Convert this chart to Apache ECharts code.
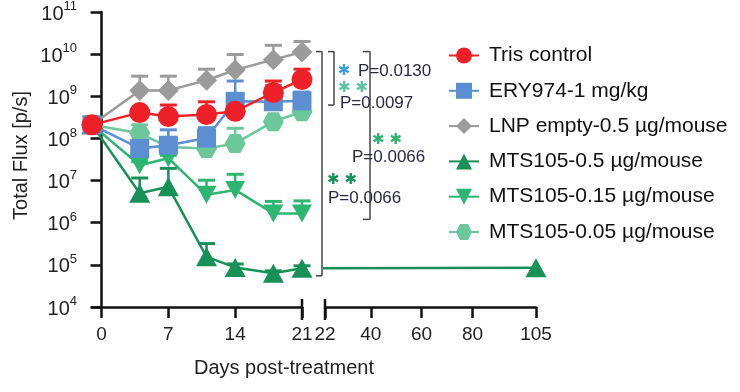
<!DOCTYPE html>
<html><head><meta charset="utf-8">
<script src="https://cdn.jsdelivr.net/npm/echarts@6/dist/echarts.min.js"></script>
<style>html,body{margin:0;padding:0;background:#fff}#c{width:740px;height:392px}</style>
</head><body><div id="c"></div>
<script>
// ---------- data ----------
const days = [-1, 4, 7, 11, 14, 18, 21];
const lateDay = 105;
const xTicksLeft = [0, 7, 14, 21];
const xTicksRight = [22, 40, 60, 80, 105];
const yTickExponents = [4, 5, 6, 7, 8, 9, 10, 11];

const names = ['Tris control', 'ERY974-1 mg/kg', 'LNP empty-0.5 µg/mouse',
  'MTS105-0.5 µg/mouse', 'MTS105-0.15 µg/mouse', 'MTS105-0.05 µg/mouse'];

const tris      = [2.1e8, 4.1e8, 3.3e8, 3.7e8, 4.4e8, 1.23e9, 2.5e9];
const trisErr   = [null, 5.0e8, 6.2e8, 7.4e8, 5.6e8, 2.3e9, 4.4e9];
const ery       = [2.1e8, 5.8e7, 6.9e7, 1.02e8, 7.6e8, 7.4e8, 7.8e8];
const eryErr    = [null, 7.9e7, 1.6e8, 1.8e8, 2.3e9, 1.8e9, 1.26e9];
const lnp       = [2.1e8, 1.38e9, 1.38e9, 2.4e9, 4.2e9, 7.4e9, 1.12e10];
const lnpErr    = [null, 3.0e9, 3.0e9, 4.4e9, 9.8e9, 1.62e10, 2.0e10];
const mts05     = [2.1e8, 5.0e6, 7.1e6, 1.55e5, 8.7e4, 6.3e4, 8.3e4];
const mts05Err  = [null, 1.15e7, 1.95e7, 3.2e5, 1.05e5, 7.2e4, 9.5e4];
const mts05Late = 8.5e4;
const mts015    = [2.1e8, 2.3e7, 3.4e7, 4.6e6, 6.0e6, 1.66e6, 1.66e6];
const mts015Err = [null, 2.8e7, 4.0e7, 1.02e7, 1.41e7, 3.2e6, 3.3e6];
const mts005    = [2.1e8, 1.32e8, 6.3e7, 5.8e7, 7.6e7, 2.5e8, 4.3e8];
const mts005Err = [null, 2.1e8, 7.9e7, 7.9e7, 1.74e8, 3.0e8, 5.0e8];

// significance annotations
const pLabels = ['P=0.0130', 'P=0.0097', 'P=0.0066', 'P=0.0066'];
const bracketTop = 1.15e10;
const bracketBottoms = [5.5e4, 6.2e8, 1.2e6];

// ---------- chart ----------
const FONT = "'Liberation Sans', Arial, Helvetica, sans-serif";
const C = {
  red: '#ee2027', blue: '#5b8fd2', gray: '#9b9b9b',
  dg: '#179157', g: '#2db672', teal: '#6cc79b'
};
const hex = 'path://M0,8.66 L5,0 L15,0 L20,8.66 L15,17.32 L5,17.32 Z';

function errData(vals, errs) {
  const out = [];
  days.forEach((d, i) => { if (errs[i] != null) out.push([d, vals[i], errs[i]]); });
  return out;
}
function errSeries(name, vals, errs, color, z) {
  return {
    type: 'custom', name: name, xAxisIndex: 0, yAxisIndex: 0, z: z, silent: true,
    encode: { x: 0, y: [1, 2] },
    data: errData(vals, errs),
    renderItem: function (params, api) {
      const p = api.coord([api.value(0), api.value(1)]);
      const q = api.coord([api.value(0), api.value(2)]);
      return { type: 'group', children: [
        { type: 'line', shape: { x1: p[0], y1: p[1], x2: q[0], y2: q[1] }, style: { stroke: color, lineWidth: 2.5 } },
        { type: 'line', shape: { x1: q[0] - 8.5, y1: q[1], x2: q[0] + 8.5, y2: q[1] }, style: { stroke: color, lineWidth: 3 } }
      ]};
    }
  };
}
function lineSeries(name, vals, color, symbol, size, z, extra) {
  return Object.assign({
    type: 'line', name: name, xAxisIndex: 0, yAxisIndex: 0, z: z, clip: false,
    data: days.map((d, i) => [d, vals[i]]),
    symbol: symbol, symbolSize: size,
    itemStyle: { color: color, opacity: 1 },
    lineStyle: { color: color, width: 2.5 },
    emphasis: { disabled: true }, animation: false
  }, extra || {});
}

const series = [
  errSeries('e5', mts005, mts005Err, C.teal, 10),
  lineSeries(names[5], mts005, C.teal, hex, [21, 19], 11),
  errSeries('e4', mts015, mts015Err, C.g, 12),
  lineSeries(names[4], mts015, C.g, 'triangle', [20, 18], 13, { symbolRotate: 180 }),
  errSeries('e3', mts05, mts05Err, C.dg, 14),
  lineSeries(names[3], mts05, C.dg, 'triangle', [21, 19], 15),
  {
    type: 'line', name: names[3], xAxisIndex: 1, yAxisIndex: 1, z: 15, clip: false,
    data: [{ value: [days[days.length - 1], mts05[mts05.length - 1]], symbol: 'none' }, [lateDay, mts05Late]],
    symbol: 'triangle', symbolSize: [21, 19],
    itemStyle: { color: C.dg }, lineStyle: { color: C.dg, width: 2.5 },
    emphasis: { disabled: true }, animation: false
  },
  errSeries('e2', lnp, lnpErr, C.gray, 16),
  lineSeries(names[2], lnp, C.gray, 'diamond', [21, 21], 17),
  errSeries('e1', ery, eryErr, C.blue, 18),
  lineSeries(names[1], ery, C.blue, 'rect', [19, 19], 19),
  errSeries('e0', tris, trisErr, C.red, 20),
  lineSeries(names[0], tris, C.red, 'circle', 21, 21)
];

const axisLine = { show: true, lineStyle: { color: '#111', width: 2.5 } };
const axisTick = { show: true, length: 11, lineStyle: { color: '#111', width: 2.5 } };

const option = {
  animation: false,
  backgroundColor: '#fff',
  textStyle: { fontFamily: FONT },
  grid: [
    { left: 92, top: 12, width: 210, height: 295 },
    { left: 325, top: 12, width: 211, height: 295 }
  ],
  xAxis: [
    { type: 'value', gridIndex: 0, min: -1, max: 21,
      axisLine: axisLine, axisTick: Object.assign({ customValues: xTicksLeft }, axisTick),
      axisLabel: { customValues: xTicksLeft, fontSize: 19, color: '#222', margin: 18, fontFamily: FONT },
      splitLine: { show: false } },
    { type: 'value', gridIndex: 1, min: 22, max: 105,
      axisLine: axisLine, axisTick: Object.assign({ customValues: xTicksRight }, axisTick),
      axisLabel: { customValues: xTicksRight, fontSize: 19, color: '#222', margin: 18, fontFamily: FONT },
      splitLine: { show: false } }
  ],
  yAxis: [
    { type: 'log', gridIndex: 0, logBase: 10, min: 1e4, max: 1e11, interval: 1, splitNumber: 7,
      axisLine: axisLine, axisTick: axisTick, splitLine: { show: false },
      name: 'Total Flux [p/s]', nameLocation: 'middle', nameGap: 61, nameRotate: 90,
      nameTextStyle: { fontSize: 20, color: '#222', fontFamily: FONT, padding: [0, 0, 0, 8] },
      axisLabel: {
        margin: 15, color: '#222',
        formatter: function (v) {
          const e = Math.round(Math.log10(v));
          return yTickExponents.indexOf(e) >= 0 ? '{b|10}{s|' + e + '}' : '';
        },
        rich: {
          b: { fontSize: 20, lineHeight: 24, verticalAlign: 'bottom', fontFamily: FONT, color: '#222' },
          s: { fontSize: 13, lineHeight: 14, verticalAlign: 'top', fontFamily: FONT, color: '#222' }
        }
      } },
    { type: 'log', gridIndex: 1, logBase: 10, min: 1e4, max: 1e11, show: false }
  ],
  legend: {
    orient: 'vertical', left: 443, top: 40,
    itemWidth: 30, itemHeight: 20, itemGap: 14.3,
    data: names,
    lineStyle: { width: 2 },
    textStyle: { fontSize: 21, color: '#111', fontFamily: FONT, lineHeight: 20, padding: [0, 0, 0, 5] },
    selectedMode: false
  },
  series: series
};

const chart = echarts.init(document.getElementById('c'), null, { renderer: 'canvas' });
chart.setOption(option);

// ---------- annotations (axis break, brackets, significance) ----------
const px = (gi, x, y) => chart.convertToPixel({ gridIndex: gi }, [x, y]);
const leftEnd = px(0, 21, 1e4);
const rightStart = px(1, 22, 1e4);
const yTop = px(0, 21, bracketTop)[1];
const g = [];
function ln(x1, y1, x2, y2, color, w) {
  g.push({ type: 'line', silent: true, z: 100, shape: { x1, y1, x2, y2 }, style: { stroke: color, lineWidth: w } });
}
function tx(text, x, y, size, color, align, family, weight) {
  g.push({ type: 'text', silent: true, z: 101,
    style: { text: text, x: x, y: y, font: (weight || 'normal') + ' ' + size + 'px ' + (family || FONT), fill: color,
      textAlign: align || 'left', align: align || 'left', textVerticalAlign: 'middle', verticalAlign: 'middle' } });
}
// break marks
ln(leftEnd[0], leftEnd[1] - 8, leftEnd[0], leftEnd[1] + 13, '#111', 2.5);
ln(rightStart[0], rightStart[1] - 8, rightStart[0], rightStart[1] + 13, '#111', 2.5);
// brackets
const bx = [leftEnd[0] + 20, leftEnd[0] + 32, leftEnd[0] + 68];
bracketBottoms.forEach((b, i) => {
  const yb = px(0, 21, b)[1];
  const x = bx[i], s = i === 2 ? 7 : 6;
  ln(x, yTop, x, yb, '#444', 1.5);
  ln(x - s, yTop, x, yTop, '#444', 1.5);
  ln(x - s, yb, x, yb, '#444', 1.5);
});
const PC = '#2a2a44';
const STAR = "'DejaVu Sans', sans-serif";
tx('✱', 344, 71, 15, '#3aa0dc', 'center', STAR);
tx(pLabels[0], 358, 71, 17, PC);
tx('✱ ✱', 353, 88, 15, '#5cc4a0', 'center', STAR);
tx(pLabels[1], 340, 103, 17, PC);
tx('✱ ✱', 387, 140, 15, C.g, 'center', STAR);
tx(pLabels[2], 352, 157, 17, PC);
tx('✱ ✱', 342, 180, 15, C.dg, 'center', STAR);
tx(pLabels[3], 328, 198, 17, PC);
tx('Days post-treatment', 284, 368, 20, '#222', 'center');
chart.setOption({ graphic: { elements: g } });
</script></body></html>
